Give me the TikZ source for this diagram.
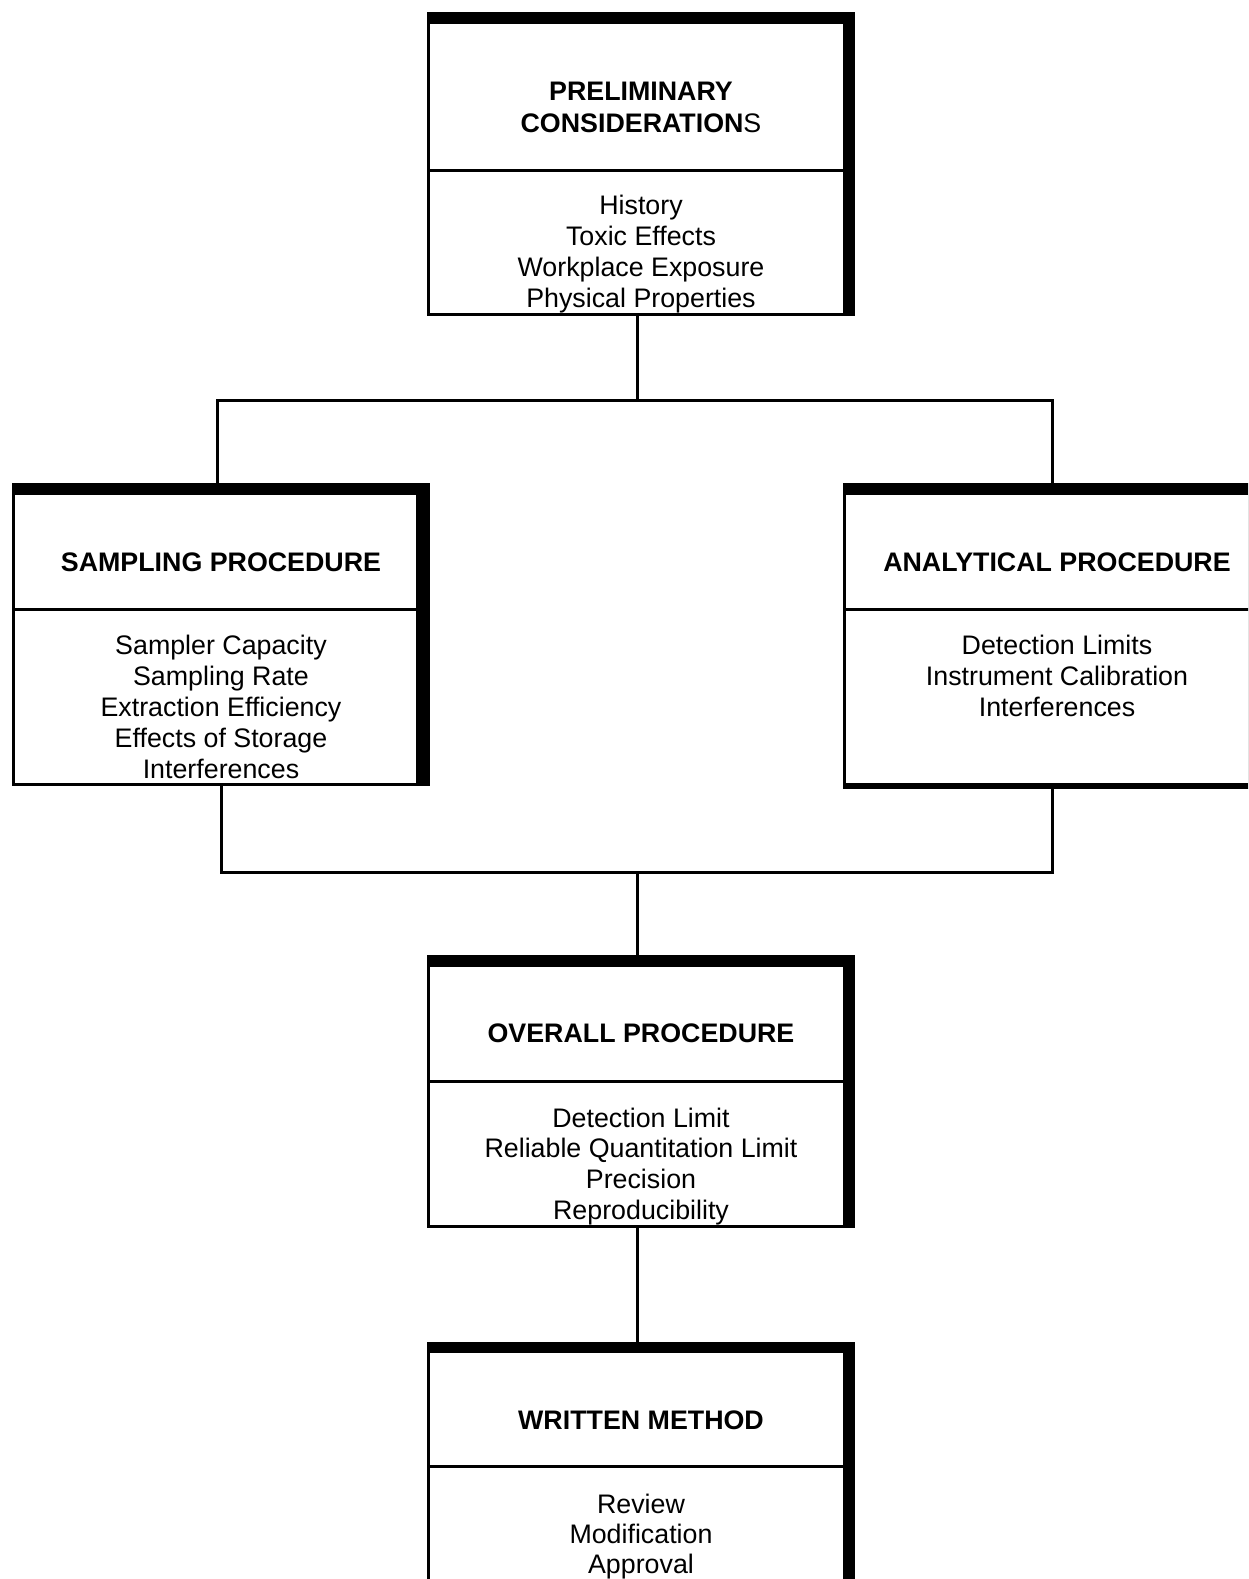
\documentclass[tikz,border=0pt]{standalone}
\usepackage{fontspec}
\setmainfont{Liberation Sans}
\usetikzlibrary{calc}
\tikzset{
  boxshape/.style={rectangle, inner sep=0pt, outer sep=0pt, draw=none, minimum width=428pt},
  headtxt/.style={font=\bfseries\fontsize{26.8}{31}\selectfont, anchor=base, inner sep=0pt},
  bodytxt/.style={font=\fontsize{26.8}{31}\selectfont, anchor=base, inner sep=0pt},
  conn/.style={line width=3pt},
}
\newcommand\framebx[5]{%
  \fill (#1.north west) rectangle (#1.south east);
  \fill[white] ($(#1.north west)+(#5,#2)$) rectangle ($(#1.south east)+(-#3,-#4)$);}
\begin{document}
\begin{tikzpicture}[x=1pt,y=-1pt]
\useasboundingbox (0,0) rectangle (1248,1579);
\clip (0,0) rectangle (1248,1579);
\fill[white] (0,0) rectangle (1248,1579);
% box shapes
\node[boxshape, minimum height=304pt] (pre) at (641,164) {};
\node[boxshape, minimum width=418pt, minimum height=303pt] (samp) at (221,634.5) {};
\node[boxshape, minimum height=306pt] (anal) at (1057,636) {};
\node[boxshape, minimum height=273pt] (over) at (641,1091.5) {};
\node[boxshape, minimum height=358pt] (writ) at (641,1521) {};
% frames: name, top, right, bottom, left
\framebx{pre}{12}{12}{3}{3}
\framebx{samp}{12}{14}{3}{2.5}
\framebx{anal}{12}{12}{6}{3}
\framebx{over}{12}{12}{3}{3}
\framebx{writ}{11}{12}{3}{3}
% dividers
\fill (pre.west |- 0,169) rectangle (pre.east |- 0,172);
\fill (samp.west |- 0,608) rectangle (samp.east |- 0,611);
\fill (anal.west |- 0,608) rectangle (anal.east |- 0,611);
\fill (over.west |- 0,1080) rectangle (over.east |- 0,1083);
\fill (writ.west |- 0,1465) rectangle (writ.east |- 0,1468);
% headings
\node[headtxt] (preh1) at (641,100) {PRELIMINARY};
\node[headtxt] (preh2) at (641,132) {CONSIDERATION{\mdseries S}};
\node[headtxt] (samph) at (221,571) {SAMPLING PROCEDURE};
\node[headtxt] (analh) at (1057,571) {ANALYTICAL PROCEDURE};
\node[headtxt] (overh) at (641,1042) {OVERALL PROCEDURE};
\node[headtxt] (writh) at (641,1429) {WRITTEN METHOD};
% body lines
\foreach \t [count=\i] in {History,Toxic Effects,Workplace Exposure,Physical Properties}
  \node[bodytxt] (preb\i) at (641,{214.5+31*(\i-1)}) {\t};
\foreach \t [count=\i] in {Sampler Capacity,Sampling Rate,Extraction Efficiency,Effects of Storage,Interferences}
  \node[bodytxt] (sampb\i) at (221,{654+31*(\i-1)}) {\t};
\foreach \t [count=\i] in {Detection Limits,Instrument Calibration,Interferences}
  \node[bodytxt] (analb\i) at (1057,{654+31*(\i-1)}) {\t};
\foreach \t [count=\i] in {Detection Limit,Reliable Quantitation Limit,Precision,Reproducibility}
  \node[bodytxt] (overb\i) at (641,{1127+30.7*(\i-1)}) {\t};
\foreach \t [count=\i] in {Review,Modification,Approval}
  \node[bodytxt] (writb\i) at (641,{1513+30.3*(\i-1)}) {\t};
% connectors
\coordinate (j1) at (637,400);
\coordinate (jl) at (217,400);
\coordinate (jr) at (1052,400);
\coordinate (k1) at (637,872);
\coordinate (kl) at (221,872);
\coordinate (kr) at (1052,872);
\draw[conn] (pre.south -| j1) -- (j1);
\draw[conn] (jl |- samp.north) -- (jl) -- (jr) -- (jr |- anal.north);
\draw[conn] (samp.south -| kl) -- (kl) -- (kr) -- (anal.south -| kr);
\draw[conn] (k1) -- (k1 |- over.north);
\draw[conn] (over.south -| k1) -- (writ.north -| k1);
\end{tikzpicture}
\end{document}
